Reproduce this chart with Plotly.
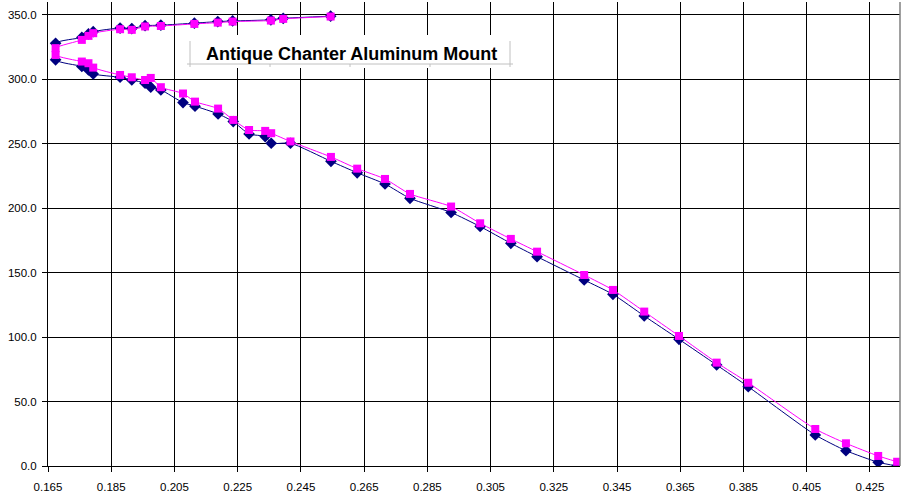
import plotly.graph_objects as go

# shared x values (path order: upper branch right->left, then lower branch left->right)
x_vals = [0.2544, 0.2394, 0.2355, 0.2234, 0.2187, 0.2113, 0.2007, 0.1957, 0.1915, 0.1878,
          0.1793, 0.1778, 0.1757, 0.1674, 0.1674,
          0.1757, 0.1778, 0.1793, 0.1878, 0.1915, 0.1957, 0.1975, 0.2007, 0.2077, 0.2115,
          0.2188, 0.2236, 0.2286, 0.2337, 0.2356, 0.2417, 0.2545, 0.2628, 0.2716, 0.2795,
          0.2925, 0.3017, 0.3114, 0.3197, 0.3346, 0.3437, 0.3536, 0.3646, 0.3765, 0.3865,
          0.4077, 0.4174, 0.4276, 0.4336]

navy_y = [349.0, 347.3, 346.2, 345.3, 344.8, 343.6, 342.0, 341.6, 339.4, 339.8,
          337.0, 335.2, 332.5, 328.0, 315.1,
          310.0, 307.3, 304.2, 301.6, 299.5, 297.0, 293.9, 291.8, 282.0, 279.2,
          273.2, 267.2, 257.6, 255.6, 250.4, 250.4, 236.4, 227.5, 218.8, 207.7,
          196.7, 185.8, 172.8, 162.4, 144.3, 133.2, 116.4, 98.3, 78.4, 61.5,
          24.1, 11.9, 2.9, 0.0]

magenta_y = [348.7, 346.9, 345.6, 344.8, 344.0, 343.0, 341.4, 341.0, 338.4, 338.9,
             335.8, 333.7, 330.6, 324.2, 318.9,
             313.8, 312.5, 309.1, 303.4, 301.6, 299.5, 301.1, 293.9, 289.0, 282.7,
             277.3, 268.5, 260.7, 260.0, 258.2, 251.8, 239.8, 230.7, 222.7, 211.1,
             201.3, 188.3, 176.2, 166.3, 148.2, 136.6, 119.8, 100.9, 80.2, 64.6,
             28.7, 17.6, 7.8, 3.3]

title_text = "Antique Chanter Aluminum Mount"

W, H = 912, 497
L, R, T, B = 48, 12, 2, 31
PW, PH = W - L - R, H - T - B


def px(xp):
    return (xp - L) / PW


def py(yp):
    return (H - B - yp) / PH


fig = go.Figure()
fig.add_trace(go.Scatter(
    x=x_vals, y=navy_y, mode="lines+markers",
    line=dict(color="#000080", width=1, shape="spline", smoothing=0.6),
    marker=dict(symbol="diamond", size=9, color="#000080"),
    showlegend=False))
fig.add_trace(go.Scatter(
    x=x_vals, y=magenta_y, mode="lines+markers",
    line=dict(color="#FF00FF", width=1, shape="spline", smoothing=0.6),
    marker=dict(symbol="square", size=8, color="#FF00FF"),
    showlegend=False))

shapes = [
    # title box background
    dict(type="rect", xref="paper", yref="paper", x0=px(188), x1=px(512), y0=py(68), y1=py(35),
         fillcolor="white", line=dict(width=0), layer="above"),
    dict(type="line", xref="paper", yref="paper", x0=px(190), x1=px(190), y0=py(67), y1=py(41),
         line=dict(color="#C0C0C0", width=1), layer="above"),
    dict(type="line", xref="paper", yref="paper", x0=px(510), x1=px(510), y0=py(67), y1=py(41),
         line=dict(color="#C0C0C0", width=1), layer="above"),
    dict(type="line", xref="paper", yref="paper", x0=px(187), x1=px(513), y0=py(64), y1=py(64),
         line=dict(color="#C0C0C0", width=1), layer="above"),
    # right plot border
    dict(type="line", xref="paper", yref="paper", x0=1, x1=1, y0=0, y1=1,
         line=dict(color="#808080", width=1.5), layer="above"),
]
for tx in (270, 350, 430):
    shapes.append(dict(type="line", xref="paper", yref="paper", x0=px(tx), x1=px(tx),
                       y0=py(67), y1=py(64), line=dict(color="#C0C0C0", width=1), layer="above"))

fig.update_layout(
    width=W, height=H,
    margin=dict(l=L, r=R, t=T, b=B, pad=0, autoexpand=False),
    paper_bgcolor="white", plot_bgcolor="white",
    font=dict(family="Liberation Sans, Arial, sans-serif", size=11, color="black"),
    shapes=shapes,
    annotations=[dict(text="<b>" + title_text + "</b>", xref="paper", yref="paper",
                      x=px(351), y=py(54.5), xanchor="center", yanchor="middle",
                      showarrow=False, font=dict(size=18, color="black",
                                                 family="Liberation Sans, Arial, sans-serif"))],
)
fig.update_xaxes(range=[0.165, 0.4345], tick0=0.165, dtick=0.02, tickformat=".3f",
                 showgrid=True, gridcolor="black", gridwidth=1, automargin=False,
                 showline=True, linecolor="black", linewidth=1, ticklabelstandoff=5,
                 tickfont=dict(size=11.5),
                 ticks="outside", ticklen=5, tickcolor="black", zeroline=False)
fig.update_yaxes(range=[0, 360], tick0=0, dtick=50, tickformat=".1f",
                 showgrid=True, gridcolor="black", gridwidth=1, automargin=False,
                 showline=True, linecolor="black", linewidth=1, ticklabelstandoff=3,
                 tickfont=dict(size=11.5),
                 ticks="outside", ticklen=5, tickcolor="black", zeroline=False)

fig.write_html("out.html", config={"displayModeBar": False},
               post_script="document.body.style.margin='0';document.body.style.overflow='hidden';")
